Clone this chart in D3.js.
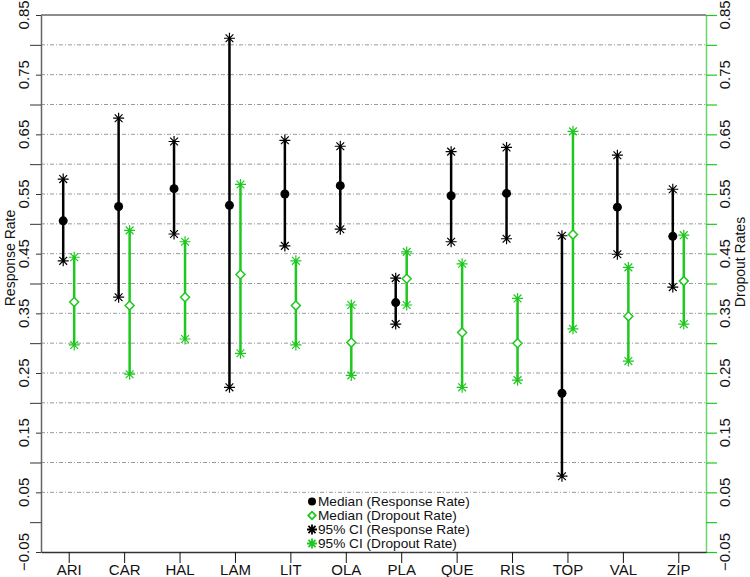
<!DOCTYPE html>
<html>
<head>
<meta charset="utf-8">
<script src="https://cdn.jsdelivr.net/npm/d3@7"></script>
<style>
body { margin: 0; background: #fff; }
text { font-family: "Liberation Sans", Arial, sans-serif; }
</style>
</head>
<body>
<div id="chart"></div>
<script>
// data
var categories = ["ARI", "CAR", "HAL", "LAM", "LIT", "OLA", "PLA", "QUE", "RIS", "TOP", "VAL", "ZIP"];
var respMedian = [0.505, 0.529, 0.559, 0.531, 0.550, 0.564, 0.368, 0.547, 0.551, 0.216, 0.528, 0.479];
var respLow    = [0.438, 0.377, 0.483, 0.226, 0.463, 0.491, 0.332, 0.470, 0.475, 0.077, 0.449, 0.394];
var respHigh   = [0.575, 0.677, 0.638, 0.811, 0.640, 0.630, 0.409, 0.621, 0.628, 0.480, 0.615, 0.558];
var dropMedian = [0.369, 0.363, 0.377, 0.415, 0.363, 0.301, 0.408, 0.318, 0.300, 0.482, 0.345, 0.404];
var dropLow    = [0.297, 0.248, 0.307, 0.283, 0.297, 0.246, 0.364, 0.226, 0.238, 0.324, 0.270, 0.332];
var dropHigh   = [0.444, 0.489, 0.470, 0.566, 0.438, 0.364, 0.453, 0.433, 0.375, 0.655, 0.427, 0.481];
var yTicks = d3.range(-0.05, 0.851, 0.05).map(d => +d.toFixed(2));
var yLabels = [-0.05, 0.05, 0.15, 0.25, 0.35, 0.45, 0.55, 0.65, 0.75, 0.85];
var legendLabels = ["Median (Response Rate)", "Median (Dropout Rate)", "95% CI (Response Rate)", "95% CI (Dropout Rate)"];

var svgWidth = 750;
var svgHeight = 577;
var margin = { top: 15, right: 44, bottom: 25, left: 41 };
var width = svgWidth - margin.left - margin.right;
var height = svgHeight - margin.top - margin.bottom;

var green = "#1ec81e";
var axisGrey = "#666";

var svg = d3.select("#chart")
    .append("svg")
    .attr("width", svgWidth)
    .attr("height", svgHeight);

var chartGroup = svg.append("g")
    .attr("transform", `translate(${margin.left}, ${margin.top})`);

var xScale = d3.scalePoint()
    .domain(categories)
    .range([0, width])
    .padding(0.5);

var yScale = d3.scaleLinear()
    .domain([-0.05, 0.85])
    .range([height, 0]);

var isLabelled = v => yLabels.some(l => Math.abs(l - v) < 1e-6);

// gridlines (dash-dot)
chartGroup.selectAll(".grid")
    .data(yTicks.filter(v => v >= 0.049 && v <= 0.801))
    .enter()
    .append("line")
    .attr("class", "grid")
    .attr("x1", 0)
    .attr("x2", width)
    .attr("y1", d => yScale(d))
    .attr("y2", d => yScale(d))
    .attr("stroke", "#808080")
    .attr("stroke-width", 0.8)
    .attr("stroke-dasharray", "4,2,1,2");

// left axis
var leftAxis = d3.axisLeft(yScale)
    .tickValues(yTicks)
    .tickFormat("")
    .tickSizeOuter(0);
var gLeft = chartGroup.append("g").call(leftAxis);
gLeft.select(".domain").attr("stroke", axisGrey).attr("stroke-width", 1.5);
gLeft.selectAll(".tick line")
    .attr("stroke", "#333")
    .attr("x2", d => isLabelled(d) ? -5 : -11);

chartGroup.selectAll(".ylab-left")
    .data(yLabels)
    .enter()
    .append("text")
    .attr("class", "ylab-left")
    .attr("transform", d => `translate(-12, ${yScale(d)}) rotate(-90)`)
    .attr("text-anchor", "middle")
    .attr("font-size", "15px")
    .attr("fill", "#111")
    .text(d => d.toFixed(2).replace("-", "\u2212"));

// right axis (dropout, same scale)
var rightAxis = d3.axisRight(yScale)
    .tickValues(yTicks)
    .tickFormat("")
    .tickSize(11)
    .tickSizeOuter(0);
var gRight = chartGroup.append("g")
    .attr("transform", `translate(${width}, 0)`)
    .call(rightAxis);
gRight.select(".domain").attr("stroke", "#6ad86a").attr("stroke-width", 1.5);
gRight.selectAll(".tick line").attr("stroke", green).attr("stroke-width", 1.2);

chartGroup.selectAll(".ylab-right")
    .data(yLabels)
    .enter()
    .append("text")
    .attr("class", "ylab-right")
    .attr("transform", d => `translate(${width + 24}, ${yScale(d)}) rotate(-90)`)
    .attr("text-anchor", "middle")
    .attr("font-size", "15px")
    .attr("fill", "#111")
    .text(d => d.toFixed(2).replace("-", "\u2212"));

// top border
chartGroup.append("line")
    .attr("x1", 0).attr("x2", width)
    .attr("y1", 0).attr("y2", 0)
    .attr("stroke", axisGrey)
    .attr("stroke-width", 1.5);

// bottom axis
var bottomAxis = d3.axisBottom(xScale).tickSize(11).tickSizeOuter(0);
var gBottom = chartGroup.append("g")
    .attr("transform", `translate(0, ${height})`)
    .call(bottomAxis);
gBottom.select(".domain").attr("stroke", "#333").attr("stroke-width", 1.5);
gBottom.selectAll(".tick line").attr("stroke", "#111");
gBottom.selectAll(".tick text")
    .attr("y", 12)
    .attr("font-size", "15px")
    .attr("font-family", "Liberation Sans, Arial, sans-serif")
    .attr("fill", "#111");

// axis titles
svg.append("text")
    .attr("transform", "translate(15, 258) rotate(-90)")
    .attr("text-anchor", "middle")
    .attr("font-size", "14px")
    .attr("fill", "#111")
    .text("Response Rate");

svg.append("text")
    .attr("transform", "translate(745, 262) rotate(-90)")
    .attr("text-anchor", "middle")
    .attr("font-size", "14px")
    .attr("fill", "#111")
    .text("Dropout Rates");

// marker helpers
function starPath(s) {
    var d = s * 0.707;
    return `M0,${-s}V${s}M${-s},0H${s}M${-d},${-d}L${d},${d}M${-d},${d}L${d},${-d}`;
}
function diamondPath(s) {
    return `M0,${-s}L${s},0L0,${s}L${-s},0Z`;
}

var off = 5.5;
var rows = categories.map((c, i) => ({
    cat: c,
    rm: respMedian[i], rl: respLow[i], rh: respHigh[i],
    dm: dropMedian[i], dl: dropLow[i], dh: dropHigh[i]
}));

// response CI lines
chartGroup.selectAll(".resp-ci")
    .data(rows)
    .enter()
    .append("line")
    .attr("x1", d => xScale(d.cat) - off)
    .attr("x2", d => xScale(d.cat) - off)
    .attr("y1", d => yScale(d.rl))
    .attr("y2", d => yScale(d.rh))
    .attr("stroke", "#000")
    .attr("stroke-width", 2.5);

// dropout CI lines
chartGroup.selectAll(".drop-ci")
    .data(rows)
    .enter()
    .append("line")
    .attr("x1", d => xScale(d.cat) + off)
    .attr("x2", d => xScale(d.cat) + off)
    .attr("y1", d => yScale(d.dl))
    .attr("y2", d => yScale(d.dh))
    .attr("stroke", green)
    .attr("stroke-width", 2.5);

// CI stars
["rl", "rh"].forEach(function(k) {
    chartGroup.selectAll(".star-" + k)
        .data(rows)
        .enter()
        .append("path")
        .attr("d", starPath(5.5))
        .attr("transform", d => `translate(${xScale(d.cat) - off}, ${yScale(d[k])})`)
        .attr("stroke", "#000")
        .attr("stroke-width", 1.2)
        .attr("fill", "none");
});
["dl", "dh"].forEach(function(k) {
    chartGroup.selectAll(".star-" + k)
        .data(rows)
        .enter()
        .append("path")
        .attr("d", starPath(5.5))
        .attr("transform", d => `translate(${xScale(d.cat) + off}, ${yScale(d[k])})`)
        .attr("stroke", green)
        .attr("stroke-width", 1.2)
        .attr("fill", "none");
});

// medians
chartGroup.selectAll(".resp-med")
    .data(rows)
    .enter()
    .append("circle")
    .attr("cx", d => xScale(d.cat) - off)
    .attr("cy", d => yScale(d.rm))
    .attr("r", 4.5)
    .attr("fill", "#000");

chartGroup.selectAll(".drop-med")
    .data(rows)
    .enter()
    .append("path")
    .attr("d", diamondPath(4.5))
    .attr("transform", d => `translate(${xScale(d.cat) + off}, ${yScale(d.dm)})`)
    .attr("fill", "#fff")
    .attr("stroke", green)
    .attr("stroke-width", 1.5);

// legend
var legend = svg.append("g").attr("transform", "translate(312, 501.5)");
var legendRows = legend.selectAll("g")
    .data(legendLabels)
    .enter()
    .append("g")
    .attr("transform", (d, i) => `translate(0, ${i * 14})`);

legendRows.each(function(d, i) {
    var g = d3.select(this);
    if (i === 0) {
        g.append("circle").attr("r", 4).attr("fill", "#000");
    } else if (i === 1) {
        g.append("path").attr("d", diamondPath(3.8))
            .attr("fill", "#fff").attr("stroke", green).attr("stroke-width", 1.8);
    } else {
        g.append("path").attr("d", starPath(5))
            .attr("stroke", i === 2 ? "#000" : green)
            .attr("stroke-width", 1.8)
            .attr("fill", "none");
    }
    var t = g.append("text")
        .attr("x", 6)
        .attr("y", 4.3)
        .attr("font-size", "12.2px")
        .attr("fill", "#111")
        .text(d);
    // the reference face is a bit wider than Liberation Sans
    var w = t.node().getComputedTextLength();
    t.attr("textLength", w * 1.12).attr("lengthAdjust", "spacingAndGlyphs");
});
</script>
</body>
</html>
